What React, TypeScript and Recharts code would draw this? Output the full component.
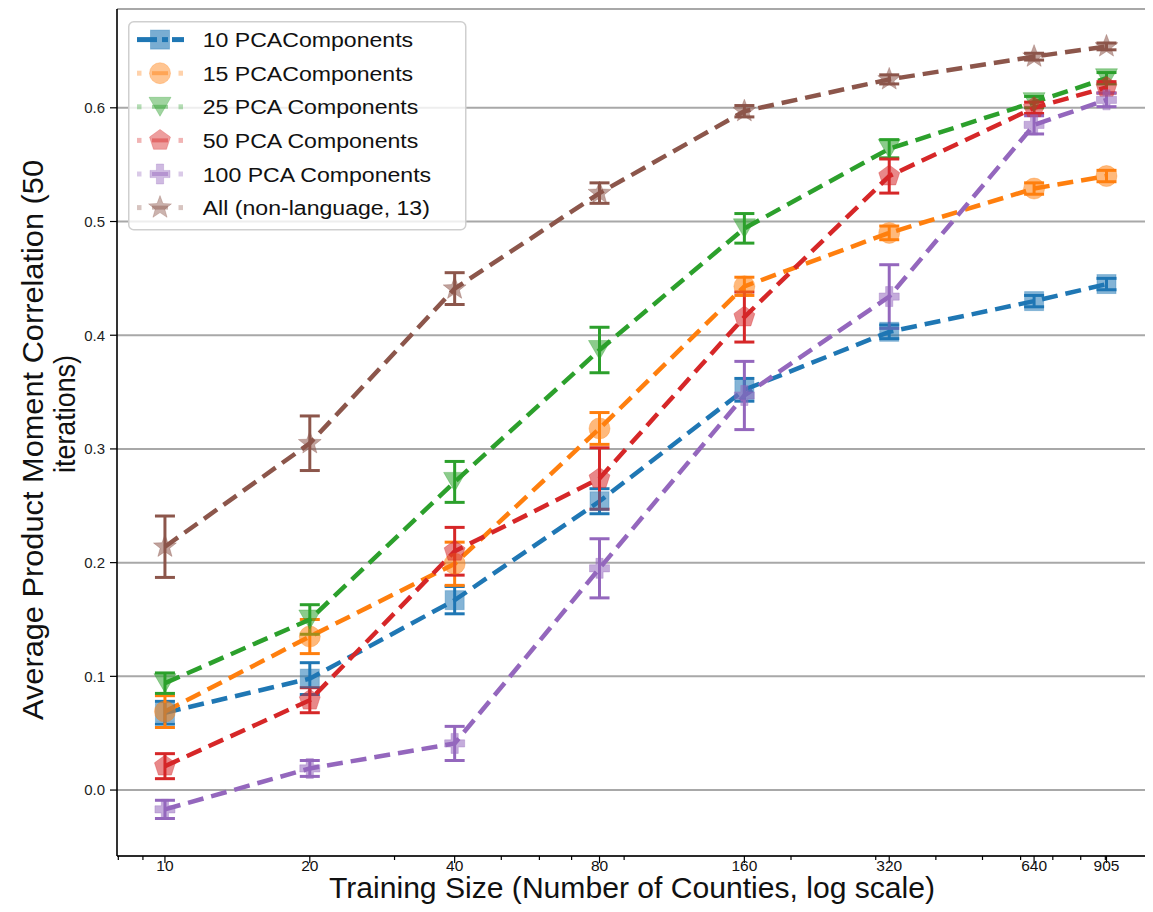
import React from 'react';
import { LineChart, Line, XAxis, YAxis, CartesianGrid, ErrorBar, Legend } from 'recharts';

// ---------- data ----------
const TRAINING_SIZES = [10, 20, 40, 80, 160, 320, 640, 905];

const PCA10 = [0.068, 0.098, 0.167, 0.254, 0.352, 0.403, 0.430, 0.445];
const PCA10_ERR = [0.010, 0.014, 0.012, 0.011, 0.010, 0.006, 0.005, 0.005];

const PCA15 = [0.069, 0.135, 0.199, 0.318, 0.443, 0.490, 0.529, 0.540];
const PCA15_ERR = [0.014, 0.015, 0.019, 0.014, 0.008, 0.006, 0.005, 0.005];

const PCA25 = [0.094, 0.150, 0.271, 0.387, 0.494, 0.564, 0.605, 0.626];
const PCA25_ERR = [0.009, 0.013, 0.018, 0.020, 0.013, 0.008, 0.005, 0.005];

const PCA50 = [0.021, 0.079, 0.210, 0.274, 0.416, 0.540, 0.600, 0.618];
const PCA50_ERR = [0.011, 0.011, 0.021, 0.027, 0.022, 0.015, 0.005, 0.005];

const PCA100 = [-0.017, 0.019, 0.041, 0.195, 0.347, 0.434, 0.585, 0.607];
const PCA100_ERR = [0.008, 0.007, 0.015, 0.026, 0.030, 0.028, 0.008, 0.006];

const ALL13 = [0.214, 0.305, 0.441, 0.525, 0.597, 0.625, 0.645, 0.654];
const ALL13_ERR = [0.027, 0.024, 0.014, 0.009, 0.005, 0.004, 0.003, 0.003];

const SERIES_NAMES = [
  '10 PCAComponents',
  '15 PCAComponents',
  '25 PCA Components',
  '50 PCA Components',
  '100 PCA Components',
  'All (non-language, 13)',
];

const MAJOR_X_TICKS = [10, 20, 40, 80, 160, 320, 640, 905];
const MINOR_X_TICKS = [8, 9, 30, 50, 60, 70, 90, 200, 300, 400, 500, 600, 700, 800, 900];
const Y_TICKS = [0, 0.1, 0.2, 0.3, 0.4, 0.5, 0.6];

const X_LABEL = 'Training Size (Number of Counties, log scale)';
const Y_LABEL_LINES = ['Average Product Moment Correlation (50', 'iterations)'];

// ---------- styles ----------
const FONT = '"Liberation Sans", Arial, Helvetica, sans-serif';
const COLORS = ['#1f77b4', '#ff7f0e', '#2ca02c', '#d62728', '#9467bd', '#8c564b'];
const SHAPES = ['square', 'circle', 'triangle', 'pentagon', 'plus', 'star'];
const X_DOMAIN: [number, number] = [7.95, 1136];
const Y_DOMAIN: [number, number] = [-0.058, 0.6869];

const SERIES_KEYS = ['p10', 'p15', 'p25', 'p50', 'p100', 'all'];
const SERIES_VALUES = [PCA10, PCA15, PCA25, PCA50, PCA100, ALL13];
const SERIES_ERRORS = [PCA10_ERR, PCA15_ERR, PCA25_ERR, PCA50_ERR, PCA100_ERR, ALL13_ERR];

const data = TRAINING_SIZES.map((x, i) => {
  const row: any = { x };
  SERIES_KEYS.forEach((k, s) => {
    row[k] = SERIES_VALUES[s][i];
    row[k + 'Err'] = SERIES_ERRORS[s][i];
  });
  return row;
});

const ALL_X_TICKS = [...MAJOR_X_TICKS, ...MINOR_X_TICKS].sort((a, b) => a - b);

function polyPoints(cx: number, cy: number, n: number, rOuter: number, rInner?: number) {
  const pts: string[] = [];
  const count = rInner ? n * 2 : n;
  for (let k = 0; k < count; k++) {
    const r = rInner ? (k % 2 === 0 ? rOuter : rInner) : rOuter;
    const a = -Math.PI / 2 + (k * 2 * Math.PI) / count;
    pts.push(`${cx + r * Math.cos(a)},${cy + r * Math.sin(a)}`);
  }
  return pts.join(' ');
}

function Marker({ shape, color, cx, cy, opacity }: any) {
  const common = {
    fill: color,
    fillOpacity: opacity,
    stroke: color,
    strokeOpacity: opacity * 0.6,
    strokeWidth: 1,
  };
  switch (shape) {
    case 'square':
      return <rect x={cx - 9.5} y={cy - 9.5} width={19} height={19} {...common} />;
    case 'circle':
      return <circle cx={cx} cy={cy} r={10.5} {...common} />;
    case 'triangle':
      return (
        <polygon
          points={`${cx - 11},${cy - 9.5} ${cx + 11},${cy - 9.5} ${cx},${cy + 9.5}`}
          {...common}
        />
      );
    case 'pentagon':
      return <polygon points={polyPoints(cx, cy, 5, 11)} {...common} />;
    case 'plus': {
      const h = 10;
      const t = 3.6;
      const d = `M${cx - t},${cy - h} H${cx + t} V${cy - t} H${cx + h} V${cy + t} H${cx + t} V${cy + h} H${cx - t} V${cy + t} H${cx - h} V${cy - t} H${cx - t} Z`;
      return <path d={d} {...common} />;
    }
    case 'star':
      return <polygon points={polyPoints(cx, cy, 5, 12, 5)} {...common} />;
    default:
      return null;
  }
}

const XTick = (props: any) => {
  const { x, y, payload } = props;
  const v = payload.value;
  const major = MAJOR_X_TICKS.includes(v);
  return (
    <g>
      <line x1={x} x2={x} y1={y} y2={y + (major ? 7 : 4)} stroke="#000" strokeWidth={1.2} />
      {major && (
        <text x={x} y={y + 15} textAnchor="middle" fontSize={15.5} fill="#111" fontFamily={FONT}>
          {v}
        </text>
      )}
    </g>
  );
};

const XLabel = () => (
  <text
    x={624}
    y={890}
    textAnchor="middle"
    fontSize={29}
    fill="#111"
    fontFamily={FONT}
    textLength={606}
    lengthAdjust="spacingAndGlyphs"
  >
    {X_LABEL}
  </text>
);

const YLabel = () => (
  <g>
    <text
      x={35}
      y={432}
      transform="rotate(-90, 35, 432)"
      textAnchor="middle"
      fontSize={30}
      fill="#111"
      fontFamily={FONT}
      textLength={560}
      lengthAdjust="spacingAndGlyphs"
    >
      {Y_LABEL_LINES[0]}
    </text>
    <text
      x={67}
      y={406}
      transform="rotate(-90, 67, 406)"
      textAnchor="middle"
      fontSize={30}
      fill="#111"
      fontFamily={FONT}
      textLength={118}
      lengthAdjust="spacingAndGlyphs"
    >
      {Y_LABEL_LINES[1]}
    </text>
  </g>
);

const LegendBox = () => (
  <svg width={340} height={212} style={{ display: 'block', overflow: 'visible' }}>
    <rect
      x={0.75}
      y={0.75}
      width={337}
      height={208}
      rx={5}
      ry={5}
      fill="rgba(255,255,255,0.8)"
      stroke="#cfcfcf"
      strokeWidth={1.5}
    />
    {SERIES_NAMES.map((name, i) => {
      const cy = 18.6 + i * 33.6;
      const color = COLORS[i];
      const first = i === 0;
      return (
        <g key={name}>
          {first ? (
            <>
              <Marker shape={SHAPES[i]} color={color} cx={32} cy={cy} opacity={0.6} />
              <line x1={9} x2={29} y1={cy} y2={cy} stroke={color} strokeWidth={5} />
              <line x1={34} x2={40} y1={cy} y2={cy} stroke={color} strokeWidth={5} />
              <line x1={44} x2={56} y1={cy} y2={cy} stroke={color} strokeWidth={5} />
            </>
          ) : (
            <>
              <rect x={9} y={cy - 2.5} width={4.5} height={5} fill={color} fillOpacity={0.35} />
              <rect x={50.5} y={cy - 2.5} width={4.5} height={5} fill={color} fillOpacity={0.35} />
              <Marker shape={SHAPES[i]} color={color} cx={32} cy={cy} opacity={0.45} />
              <line x1={24} x2={40} y1={cy} y2={cy} stroke={color} strokeOpacity={0.45} strokeWidth={4} />
            </>
          )}
          <text
            transform={`translate(74.7, ${cy + 7.5}) scale(1.1, 1)`}
            x={0}
            y={0}
            fontSize={21}
            fill="#111"
            fontFamily={FONT}
          >
            {name}
          </text>
        </g>
      );
    })}
  </svg>
);

export default function App() {
  return (
    <div style={{ width: 1145, height: 896, overflow: 'hidden', position: 'relative' }}>
      <LineChart
        width={1146}
        height={896}
        data={data}
        margin={{ top: 1, right: 0, left: 0, bottom: 0 }}
      >
        <CartesianGrid vertical={false} stroke="#a8a8a8" strokeWidth={2} />
        <XAxis
          dataKey="x"
          type="number"
          scale="log"
          domain={X_DOMAIN}
          allowDataOverflow
          ticks={ALL_X_TICKS}
          interval={0}
          tickSize={0}
          tickMargin={0}
          tickLine={false}
          tick={<XTick />}
          height={48}
          axisLine={{ stroke: '#000', strokeWidth: 1.6 }}
          label={{ content: () => <XLabel /> }}
        />
        <XAxis
          xAxisId="top"
          orientation="top"
          type="number"
          scale="log"
          domain={X_DOMAIN}
          allowDataOverflow
          height={0}
          tick={false}
          tickLine={false}
          axisLine={{ stroke: '#000', strokeWidth: 2 }}
        />
        <YAxis
          type="number"
          domain={Y_DOMAIN}
          allowDataOverflow
          ticks={Y_TICKS}
          interval={0}
          width={109}
          tickSize={7}
          tickMargin={5}
          tickFormatter={(v: number) => v.toFixed(1)}
          tick={{ fontSize: 15, fill: '#222', fontFamily: FONT }}
          tickLine={{ stroke: '#000', strokeWidth: 1.2 }}
          axisLine={{ stroke: '#000', strokeWidth: 1.6 }}
          label={{ content: () => <YLabel /> }}
        />
        <Legend
          layout="horizontal"
          verticalAlign="middle"
          align="center"
          wrapperStyle={{ position: 'absolute', left: 120, top: 13, width: 340, height: 212 }}
          content={() => <LegendBox />}
        />
        {SERIES_KEYS.map((k, s) => (
          <Line
            key={k}
            dataKey={k}
            name={SERIES_NAMES[s]}
            type="linear"
            stroke={COLORS[s]}
            strokeWidth={4.5}
            strokeDasharray="16 8"
            isAnimationActive={false}
            activeDot={false}
            legendType="none"
            dot={(p: any) => (
              <Marker
                key={`${k}-${p.index}`}
                shape={SHAPES[s]}
                color={COLORS[s]}
                cx={p.cx}
                cy={p.cy}
                opacity={0.55}
              />
            )}
          >
            <ErrorBar
              dataKey={k + 'Err'}
              direction="y"
              width={10}
              strokeWidth={3}
              stroke={COLORS[s]}
              isAnimationActive={false}
            />
          </Line>
        ))}
      </LineChart>
    </div>
  );
}
